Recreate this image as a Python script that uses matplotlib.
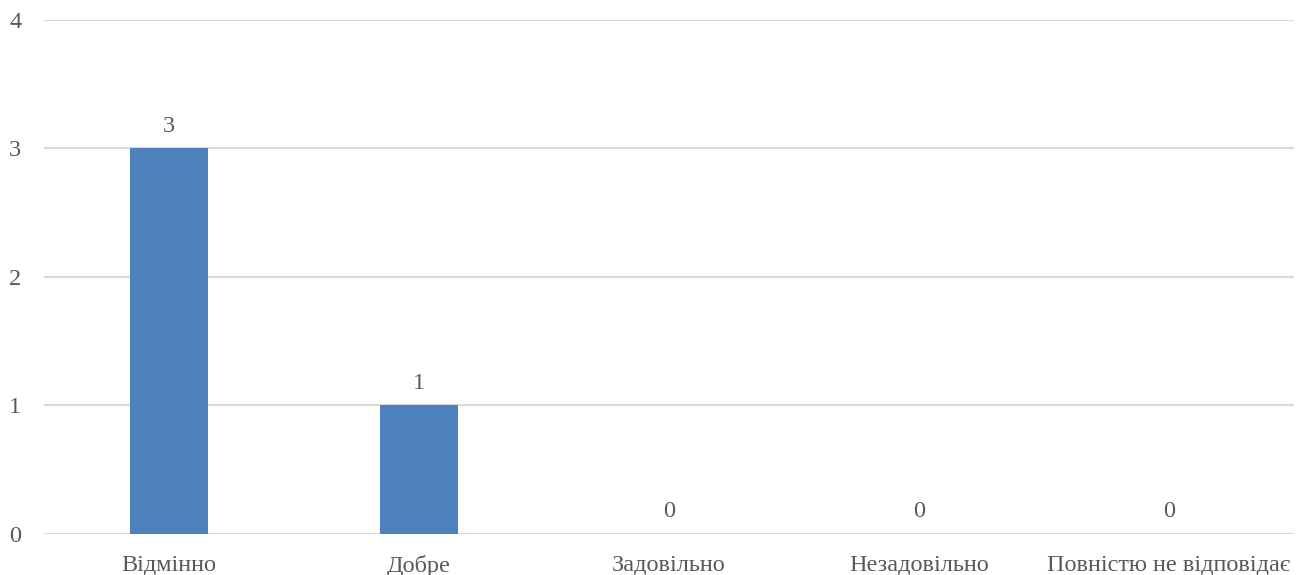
import matplotlib
matplotlib.use('Agg')
import matplotlib.pyplot as plt

categories = ['Відмінно', 'Добре', 'Задовільно', 'Незадовільно', 'Повністю не відповідає']
counts = [3, 1, 0, 0, 0]
y_ticks = [0, 1, 2, 3, 4]

plt.rcParams['font.family'] = ['Liberation Serif', 'DejaVu Serif']
text_color = '#595959'
fs = 17.5

fig = plt.figure(figsize=(13.06, 5.75), dpi=100)
ax = fig.add_axes([0.0337, 0.0713, 0.957, 0.894])

x = range(len(categories))
bars = ax.bar(x, counts, width=0.31, color='#4F81BD', zorder=3)

# value labels above each bar
for i, v in zip(x, counts):
    ax.text(i, v + 0.09, str(v), ha='center', va='bottom', fontsize=fs, color=text_color)

ax.set_xlim(-0.5, len(categories) - 0.5)
ax.set_ylim(0, 4)
ax.set_yticks(y_ticks)
ax.set_xticks(list(x))
ax.set_xticklabels(categories)
ax.tick_params(axis='both', length=0, labelsize=fs, labelcolor=text_color)
ax.tick_params(axis='x', pad=15)
ax.tick_params(axis='y', pad=25)
for lbl in ax.get_yticklabels():
    lbl.set_horizontalalignment('left')

ax.grid(axis='y', color='#D9D9D9', linewidth=1.5, zorder=0)
for s in ax.spines.values():
    s.set_visible(False)

fig.savefig('out.png', dpi=100)
